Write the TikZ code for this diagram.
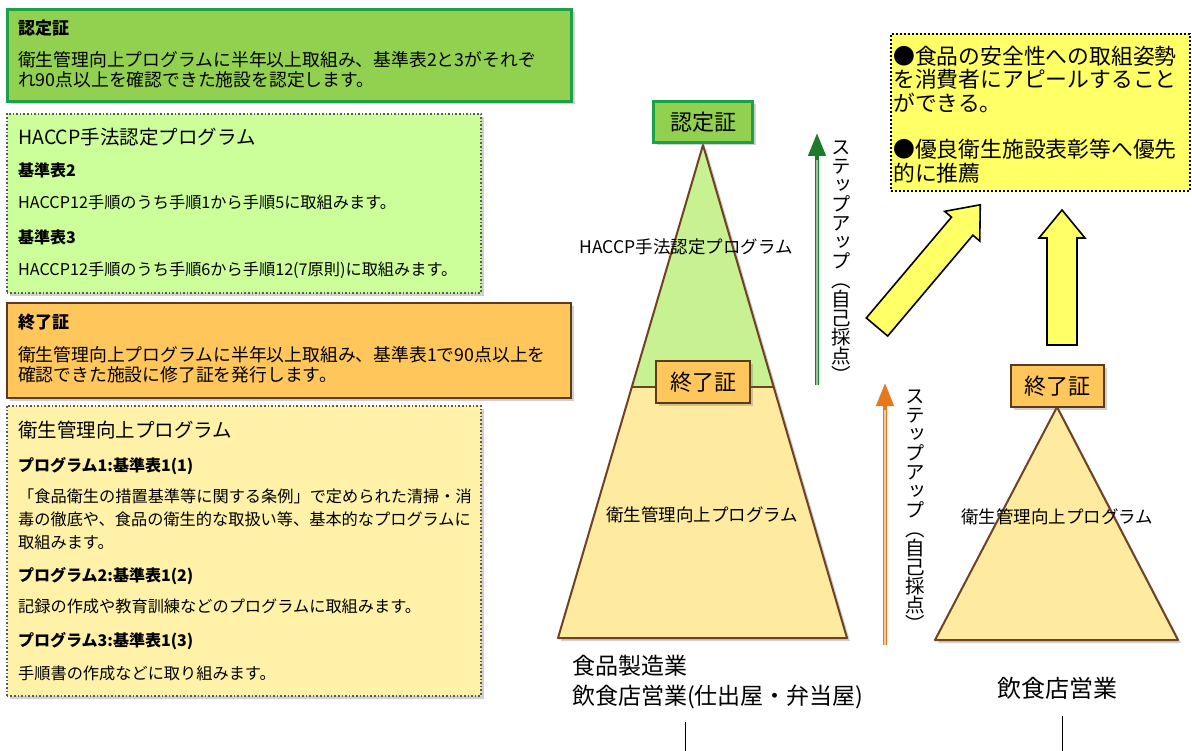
\documentclass[tikz,border=0pt]{standalone}
\usepackage{fontspec}
\setmainfont{Noto Sans CJK JP}
\newfontfamily\tatefont[RawFeature=+vert]{Noto Sans CJK JP}
\usetikzlibrary{arrows.meta,positioning,shadows}

\definecolor{ninGreen}{RGB}{146,208,80}
\definecolor{ninBorder}{RGB}{30,160,72}
\definecolor{haccpGreen}{RGB}{204,255,153}
\definecolor{triGreen}{RGB}{200,242,145}
\definecolor{shuOrange}{RGB}{255,198,92}
\definecolor{shuBorder}{RGB}{92,58,30}
\definecolor{eiYellow}{RGB}{255,242,168}
\definecolor{triYellow}{RGB}{255,235,160}
\definecolor{triBorder}{RGB}{110,66,35}
\definecolor{meritYellow}{RGB}{255,255,102}
\definecolor{stepGreen}{RGB}{30,122,40}
\definecolor{stepOrange}{RGB}{232,120,30}

\tikzset{
  boxshadow/.style={drop shadow={shadow xshift=3pt,shadow yshift=-3pt,opacity=0.3,fill=black!60}},
  infobox/.style={anchor=north west,inner sep=0,boxshadow},
  ninbox/.style={infobox,fill=ninGreen,draw=ninBorder,line width=3pt},
  haccpbox/.style={infobox,fill=haccpGreen,draw=black!65,dotted,line width=1.6pt},
  shubox/.style={infobox,fill=shuOrange,draw=shuBorder,line width=2pt},
  eibox/.style={infobox,fill=eiYellow,draw=black!65,dotted,line width=1.6pt},
  meritbox/.style={anchor=north west,inner sep=0,fill=meritYellow,draw=black,dotted,line width=2pt},
  head/.style={anchor=west,inner sep=0,font=\bfseries\fontsize{17}{20}\selectfont},
  subhead/.style={anchor=west,inner sep=0,font=\bfseries\fontsize{16}{20}\selectfont},
  bigtitle/.style={anchor=west,inner sep=0,font=\fontsize{19.5}{22}\selectfont},
  body/.style={anchor=west,inner sep=0,align=left,font=\fontsize{17.8}{20}\selectfont},
  smallbody/.style={anchor=west,inner sep=0,align=left,font=\fontsize{16.2}{23}\selectfont},
  triline/.style={draw=triBorder,line width=2pt,line join=round},
  greenbadge/.style={fill=ninGreen,draw=ninBorder,line width=3pt,inner sep=0,
    minimum width=99pt,minimum height=41pt,font=\fontsize{22}{22}\selectfont,boxshadow},
  orangebadge/.style={fill=shuOrange,draw=shuBorder,line width=2pt,inner sep=0,
    minimum width=94pt,minimum height=41pt,font=\fontsize{22}{22}\selectfont,boxshadow},
  trilabel/.style={inner sep=0,font=\fontsize{17.5}{20}\selectfont},
  tate/.style={inner sep=0,align=center,font=\tatefont\fontsize{19.5}{19}\selectfont},
  steparrow/.style={line width=4.5pt,-{Triangle[length=23pt,width=17pt]}},
  stepcore/.style={line width=1.4pt},
  meritarrow/.style={fill=meritYellow,draw=black,line width=1.6pt,line join=miter},
  merittext/.style={anchor=west,inner sep=0,align=left,font=\fontsize{21.8}{23.5}\selectfont},
  gyoshu/.style={inner sep=0,align=left,font=\fontsize{23}{30}\selectfont}
}

\begin{document}
\begin{tikzpicture}[x=1pt,y=-1pt]
\useasboundingbox[fill=white] (0,0) rectangle (1192,751);

% left column
\node[ninbox,minimum width=564pt,minimum height=92pt] (nin) at (6,8) {};
\node[head] (ninT) at ([shift={(12,20)}]nin.north west) {認定証};
\node[body] (ninB) at ([shift={(12,62)}]nin.north west)
  {衛生管理向上プログラムに半年以上取組み、基準表2と3がそれぞ\\れ90点以上を確認できた施設を認定します。};

\node[haccpbox,minimum width=474pt,minimum height=179pt] (haccp) at (6,113) {};
\node[bigtitle] (haccpT) at ([shift={(12,24)}]haccp.north west) {HACCP手法認定プログラム};
\node[subhead] (kijun2) at ([shift={(12,57)}]haccp.north west) {基準表2};
\node[smallbody] (kijun2B) at ([shift={(12,89)}]haccp.north west) {HACCP12手順のうち手順1から手順5に取組みます。};
\node[subhead] (kijun3) at ([shift={(12,124)}]haccp.north west) {基準表3};
\node[smallbody] (kijun3B) at ([shift={(12,157)}]haccp.north west) {HACCP12手順のうち手順6から手順12(7原則)に取組みます。};

\node[shubox,minimum width=564pt,minimum height=95pt] (shu) at (6,302) {};
\node[head] (shuT) at ([shift={(12,20)}]shu.north west) {終了証};
\node[body] (shuB) at ([shift={(12,63)}]shu.north west)
  {衛生管理向上プログラムに半年以上取組み、基準表1で90点以上を\\確認できた施設に修了証を発行します。};

\node[eibox,minimum width=474pt,minimum height=290pt] (ei) at (6,405) {};
\node[bigtitle] (eiT) at ([shift={(12,25)}]ei.north west) {衛生管理向上プログラム};
\node[subhead] (prog1) at ([shift={(12,61)}]ei.north west) {プログラム1:基準表1(1)};
\node[smallbody] (prog1B) at ([shift={(12,114)}]ei.north west)
  {「食品衛生の措置基準等に関する条例」で定められた清掃・消\\毒の徹底や、食品の衛生的な取扱い等、基本的なプログラムに\\取組みます。};
\node[subhead] (prog2) at ([shift={(12,171)}]ei.north west) {プログラム2:基準表1(2)};
\node[smallbody] (prog2B) at ([shift={(12,201)}]ei.north west) {記録の作成や教育訓練などのプログラムに取組みます。};
\node[subhead] (prog3) at ([shift={(12,236)}]ei.north west) {プログラム3:基準表1(3)};
\node[smallbody] (prog3B) at ([shift={(12,268)}]ei.north west) {手順書の作成などに取り組みます。};

% left pyramid
\coordinate (topL) at (703,145);
\coordinate (blL) at (558,638);
\coordinate (brL) at (847,638);
\coordinate (mlL) at (632,387);
\coordinate (mrL) at (774,387);
\path[boxshadow,fill=triYellow] (topL) -- (blL) -- (brL) -- cycle;
\fill[triGreen] (topL) -- (mlL) -- (mrL) -- cycle;
\draw[triline] (topL) -- (blL) -- (brL) -- cycle;
\draw[triline] (mlL) -- (mrL);
\node[greenbadge] (ninS) at (703,122) {認定証};
\node[orangebadge] (shuS) at (703,382) {終了証};
\node[trilabel] (haccpL) at (686,247) {HACCP手法認定プログラム};
\node[trilabel] (eiL) at (702,515) {衛生管理向上プログラム};

% right pyramid
\coordinate (topR) at (1057,407);
\coordinate (blR) at (935,640);
\coordinate (brR) at (1178,640);
\path[boxshadow,fill=triYellow] (topR) -- (blR) -- (brR) -- cycle;
\draw[triline] (topR) -- (blR) -- (brR) -- cycle;
\node[orangebadge,minimum width=93pt,minimum height=42pt] (shuR) at (1057,386) {終了証};
\node[trilabel] (eiR) at (1057,517) {衛生管理向上プログラム};

% step up arrows
\coordinate (gs) at (817,385);
\coordinate (ge) at (817,133);
\coordinate (gc) at (817,160);
\draw[steparrow,stepGreen] (gs) -- (ge);
\draw[stepcore,stepGreen!45!white] (gs) -- (gc);
\node[tate] (stepG) at (841,262) {ス\\テ\\ッ\\プ\\ア\\ッ\\プ\\（\\自\\己\\採\\点\\）};
\coordinate (os) at (885,645);
\coordinate (oe) at (885,383);
\coordinate (oc) at (885,410);
\draw[steparrow,stepOrange] (os) -- (oe);
\draw[stepcore,stepOrange!40!white] (os) -- (oc);
\node[tate] (stepO) at (915,511) {ス\\テ\\ッ\\プ\\ア\\ッ\\プ\\（\\自\\己\\採\\点\\）};

% merits
\node[meritbox,minimum width=299pt,minimum height=157pt] (merit) at (890,33) {};
\node[merittext] (merit1) at (893,79) {●食品の安全性への取組姿勢\\を消費者にアピールすること\\ができる。};
\node[merittext] (merit2) at (893,161) {●優良衛生施設表彰等へ優先\\的に推薦};
\begin{scope}[shift={(877,327)},rotate=49.8]
  \draw[meritarrow] (0,-14) -- (132,-14) -- (132,-23) -- (160,0) -- (132,23) -- (132,14) -- (0,14) -- cycle;
\end{scope}
\begin{scope}[shift={(1062,345)},rotate=90]
  \draw[meritarrow] (0,-15) -- (107,-15) -- (107,-23) -- (135,0) -- (107,23) -- (107,15) -- (0,15) -- cycle;
\end{scope}

% business types
\node[gyoshu,anchor=west] (seizo) at (572,682) {食品製造業\\飲食店営業(仕出屋・弁当屋)};
\node[gyoshu,font=\fontsize{24}{30}\selectfont] (inshoku) at (1057,688) {飲食店営業};
\coordinate (lineL) at (685,722);
\coordinate (lineLend) at (685,751);
\coordinate (lineR) at (1062,716);
\coordinate (lineRend) at (1062,751);
\draw[line width=1pt] (lineL) -- (lineLend);
\draw[line width=1pt] (lineR) -- (lineRend);
\end{tikzpicture}
\end{document}
